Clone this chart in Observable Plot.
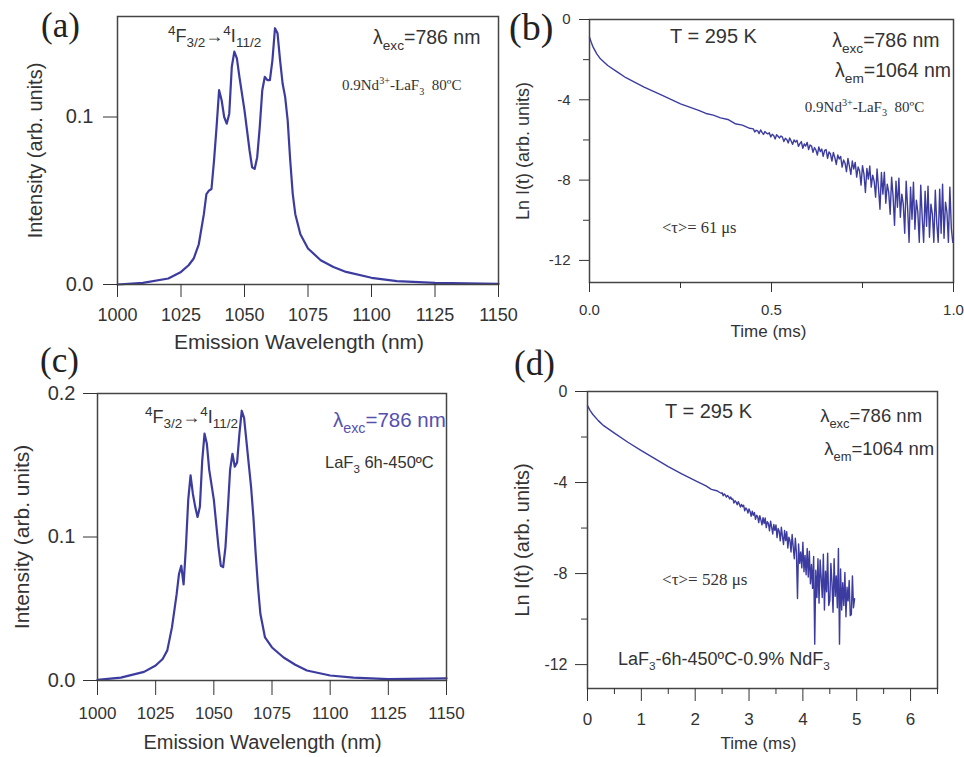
<!DOCTYPE html>
<html><head><meta charset="utf-8">
<script src="https://cdn.jsdelivr.net/npm/d3@7"></script>
<script src="https://cdn.jsdelivr.net/npm/@observablehq/plot@0.6"></script>
<style>
body{margin:0;background:#fff;}
#fig{position:relative;width:964px;height:757px;overflow:hidden;background:#fff;}
#fig svg{position:absolute;overflow:visible;}
</style></head><body><div id="fig"></div>
<script>
// ---------- DATA ----------
const wlTicks = [1000, 1025, 1050, 1075, 1100, 1125, 1150];
const aYTicks = [0, 0.1];
const cYTicks = [0, 0.1, 0.2];
const lnTicks = [0, -4, -8, -12];
const lnMinor = [-2, -6, -10];
const bTimeTicks = [0, 0.5, 1.0];
const bTimeMinor = [0.25, 0.75];
const dTimeTicks = [0, 1, 2, 3, 4, 5, 6];
const dTimeMinor = [0.5, 1.5, 2.5, 3.5, 4.5, 5.5, 6.5];

// (a) emission spectrum, 0.9Nd3+-LaF3 80ºC
const aWl = [1000,1010,1020,1025,1028,1030,1032,1034,1035,1036,1037,1038,1039,1040,1041,1042,1043,1044,1045,1046,1047,1048,1050,1052,1053,1054,1055,1056,1057,1058,1059,1060,1061,1062,1063,1064,1065,1066,1067,1068,1069,1070,1072,1075,1080,1085,1090,1100,1110,1125,1150];
const aInt = [0.0000,0.0010,0.0036,0.0075,0.0115,0.0155,0.024,0.042,0.054,0.056,0.057,0.074,0.094,0.116,0.110,0.100,0.096,0.102,0.130,0.139,0.135,0.124,0.104,0.080,0.070,0.069,0.076,0.094,0.116,0.124,0.122,0.122,0.134,0.153,0.150,0.134,0.120,0.112,0.098,0.074,0.054,0.042,0.030,0.0215,0.0145,0.0105,0.0075,0.004,0.002,0.001,0.0004];

// (c) emission spectrum, LaF3 6h-450ºC
const cWl = [1000,1010,1020,1025,1028,1030,1032,1034,1035,1036,1037,1038,1039,1040,1041,1042,1043,1044,1045,1046,1047,1048,1050,1052,1053,1054,1055,1056,1057,1058,1059,1060,1061,1062,1063,1064,1065,1066,1067,1068,1069,1070,1072,1075,1080,1085,1090,1100,1110,1125,1150];
const cInt = [0.0005,0.002,0.006,0.0105,0.015,0.021,0.037,0.060,0.074,0.080,0.067,0.093,0.126,0.143,0.130,0.121,0.114,0.121,0.153,0.172,0.165,0.147,0.126,0.093,0.080,0.079,0.093,0.119,0.147,0.158,0.149,0.152,0.172,0.188,0.183,0.167,0.151,0.135,0.114,0.088,0.065,0.0465,0.030,0.023,0.016,0.011,0.007,0.0035,0.002,0.001,0.0015];

// (b) decay, smooth early part
const bTime = [0,0.005,0.01,0.02,0.03,0.05,0.075,0.1,0.15,0.2,0.25,0.3,0.32,0.34,0.36,0.38,0.40,0.42,0.44];
const bLn = [-0.88,-1.15,-1.38,-1.71,-1.96,-2.29,-2.60,-2.90,-3.37,-3.78,-4.20,-4.53,-4.68,-4.76,-4.90,-4.98,-5.19,-5.26,-5.42];
// (b) decay, noisy tail sampled every 0.004 ms from 0.45 ms
const bTailStart = 0.45, bTailStep = 0.004;
const bLnTail = [
 -5.45,-5.60,-5.52,-5.55,-5.68,-5.50,-5.62,-5.72,-5.58,-5.66,
 -5.70,-5.64,-5.85,-5.72,-5.78,-5.95,-5.74,-5.82,-5.90,-5.80,
 -5.86,-6.08,-5.92,-5.98,-6.15,-5.90,-6.05,-6.22,-6.00,-6.10,
 -6.02,-6.32,-6.18,-6.08,-6.42,-6.20,-6.30,-6.12,-6.48,-6.25,
 -6.30,-6.62,-6.38,-6.50,-6.75,-6.35,-6.58,-6.45,-6.82,-6.52,
 -6.48,-6.92,-6.60,-6.70,-7.05,-6.62,-6.88,-7.22,-6.75,-6.95,
 -6.82,-7.35,-7.00,-7.15,-7.58,-6.92,-7.30,-7.72,-7.05,-7.45,
 -7.12,-7.85,-7.35,-7.55,-8.25,-7.28,-7.70,-8.62,-7.42,-7.95,
 -7.30,-8.35,-7.75,-8.05,-8.85,-7.45,-8.40,-9.45,-7.62,-8.70,
 -7.60,-9.15,-8.20,-8.60,-9.70,-7.85,-8.80,-10.25,-8.05,-9.35,
 -7.90,-9.85,-8.70,-9.20,-10.65,-8.05,-9.40,-11.10,-8.35,-9.95,
 -8.10,-10.45,-9.00,-9.60,-11.10,-8.25,-9.85,-11.10,-8.55,-10.30,
 -8.30,-10.85,-9.20,-9.70,-11.10,-8.50,-10.15,-11.10,-8.45,-10.65,
 -8.20,-10.90,-9.10,-9.60,-11.10,-8.35,-10.40,-11.10
];

// (d) decay, smooth early part
const dTime = [0,0.05,0.1,0.2,0.3,0.5,0.75,1.0,1.25,1.5,1.75,2.0,2.2,2.3,2.4,2.48];
const dLn = [-0.62,-0.84,-1.01,-1.28,-1.50,-1.83,-2.23,-2.60,-2.95,-3.30,-3.62,-3.92,-4.15,-4.30,-4.36,-4.47];
// (d) decay, noisy tail sampled every 0.02 ms from 2.5 ms
const dTailStart = 2.5, dTailStep = 0.02;
const dLnTail = [
 -4.45,-4.58,-4.50,-4.55,-4.64,-4.57,-4.62,-4.72,-4.64,-4.74,
 -4.72,-4.90,-4.80,-4.86,-4.98,-4.84,-4.94,-5.08,-4.96,-5.06,
 -5.00,-5.24,-5.12,-5.18,-5.34,-5.16,-5.28,-5.48,-5.26,-5.44,
 -5.32,-5.62,-5.44,-5.50,-5.76,-5.46,-5.64,-5.86,-5.54,-5.80,
 -5.56,-5.98,-5.72,-5.80,-6.12,-5.70,-5.96,-6.26,-5.84,-6.10,
 -5.86,-6.42,-6.02,-6.14,-6.56,-5.96,-6.36,-6.72,-6.10,-6.55,
 -6.16,-6.88,-6.40,-6.55,-7.05,-6.28,-6.82,-7.35,-6.45,-7.10,
 -9.10,-6.70,-7.55,-7.05,-7.75,-6.62,-7.92,-7.20,-8.05,-6.90,
 -8.15,-7.02,-8.45,-7.60,-8.65,-7.25,-11.10,-7.85,-9.05,-7.35,
 -9.30,-7.40,-8.20,-9.05,-7.15,-9.60,-7.90,-8.80,-7.10,-9.40,
 -9.20,-7.55,-8.40,-9.70,-7.35,-9.00,-8.10,-9.50,-6.90,-11.10,
 -7.80,-9.60,-8.40,-9.40,-7.95,-9.90,-8.60,-9.20,-8.30,-9.85,
 -9.80,-8.10,-9.50,-9.10
];

// ---------- TEXT ----------
const xLabelWl = "Emission Wavelength (nm)";
const yLabelInt = "Intensity (arb. units)";
const xLabelTime = "Time (ms)";
const yLabelLn = "Ln I(t) (arb. units)";
const transition = [["4","sup"],["F"],["3/2","sub"],["\u2192"],["4","sup"],["I"],["11/2","sub"]];
const lamExc = [["\u03bb"],["exc","sub"],["=786 nm"]];
const lamEm = [["\u03bb"],["em","sub"],["=1064 nm"]];
const tempT = [["T = 295 K"]];
const sampleNd = [["0.9Nd"],["3+","sup"],["-LaF"],["3","sub"],["\u00a0 80ºC"]];
const sampleC = [["LaF"],["3","sub"],[" 6h-450ºC"]];
const sampleD = [["LaF"],["3","sub"],["-6h-450ºC-0.9% NdF"],["3","sub"]];
const tauB = [["<\u03c4>= 61 \u03bcs"]];
const tauD = [["<\u03c4>= 528 \u03bcs"]];

// ---------- STYLE ----------
const sans = "Liberation Sans, Arial, Helvetica, sans-serif";
const serif = "Liberation Serif, Times New Roman, serif";
const lineBlue = "#3c3ca0";
const ink = "#333";

const fig = document.getElementById("fig");

function scaleFn(plot, name) {
  const s = plot.scale(name);
  if (s && typeof s.apply === "function") return v => s.apply(v);
  return d3.scaleLinear(s.domain, s.range);
}
function addRich(plot, xv, yv, parts, o) {
  const size = o.size, sub = o.sub || 0.7;
  const sx = scaleFn(plot, "x"), sy = scaleFn(plot, "y");
  const t = d3.select(plot).append("text")
    .attr("x", sx(xv)).attr("y", sy(yv))
    .attr("text-anchor", "start")
    .attr("font-family", o.family || sans).attr("font-size", size)
    .attr("fill", o.fill || ink);
  let cur = 0;
  for (const [s, k] of parts) {
    const off = k === "sub" ? size * 0.3 : k === "sup" ? -size * 0.4 : 0;
    const ts = t.append("tspan").text(s);
    if (off - cur !== 0) ts.attr("dy", off - cur);
    if (k) ts.attr("font-size", size * sub);
    cur = off;
  }
}
function place(plot, left, top) {
  plot.style.left = left + "px";
  plot.style.top = top + "px";
  fig.appendChild(plot);
}
const baseStyle = {background: "transparent", color: ink, fontFamily: sans, overflow: "visible"};
function yTitle(label, dx, size) {
  return Plot.text([label], {text: d => d, frameAnchor: "left", dx, rotate: -90, textAnchor: "middle", lineAnchor: "middle", fontSize: size, fill: ink});
}
function xTitle(label, dx, dy, size) {
  return Plot.text([label], {text: d => d, frameAnchor: "bottom", dx, dy, textAnchor: "middle", lineAnchor: "middle", fontSize: size, fill: ink});
}

// ---------- (a) ----------
const aData = aWl.map((w, i) => ({w, v: aInt[i]}));
const A = Plot.plot({
  width: 510, height: 355, marginLeft: 117, marginRight: 12, marginTop: 16, marginBottom: 71,
  style: baseStyle,
  x: {domain: [1000, 1150]}, y: {domain: [0, 0.16]},
  marks: [
    Plot.line(aData, {x: "w", y: "v", stroke: lineBlue, strokeWidth: 2.2}),
    Plot.frame({stroke: "#444", strokeWidth: 1.5}),
    Plot.axisX({ticks: wlTicks, tickSize: 13, tickPadding: 11, fontSize: 18, tickFormat: d => String(d), label: null}),
    Plot.axisY({ticks: aYTicks, tickSize: 14, tickPadding: 10, fontSize: 20, tickFormat: d3.format(".1f"), label: null}),
    yTitle(yLabelInt, -82, 20),
    xTitle(xLabelWl, -9, 58, 21)
  ]
});
place(A, 0, 0);
addRich(A, 1020.1, 0.1445, transition, {size: 18, sub: 0.75});
addRich(A, 1100.8, 0.1433, lamExc, {size: 19.5});
addRich(A, 1088.6, 0.1158, sampleNd, {size: 15, family: serif, sub: 0.68});

// ---------- (b) ----------
const bData = bTime.map((t, i) => ({t, v: bLn[i]}))
  .concat(bLnTail.map((v, i) => ({t: bTailStart + i * bTailStep, v})));
const B = Plot.plot({
  width: 484, height: 355, marginLeft: 109, marginRight: 11, marginTop: 19, marginBottom: 73,
  style: baseStyle,
  x: {domain: [0, 1]}, y: {domain: [-13.1, 0]},
  marks: [
    Plot.line(bData, {x: "t", y: "v", stroke: lineBlue, strokeWidth: 1.4}),
    Plot.frame({stroke: "#444", strokeWidth: 1.5}),
    Plot.axisX({ticks: bTimeTicks, tickSize: 10, tickPadding: 12, fontSize: 15, tickFormat: d3.format(".1f"), label: null}),
    Plot.axisX({ticks: bTimeMinor, tickSize: 6, tickFormat: () => "", label: null}),
    Plot.axisY({ticks: lnTicks, tickSize: 10, tickPadding: 9, fontSize: 15, tickFormat: d => String(d), label: null}),
    Plot.axisY({ticks: lnMinor, tickSize: 6, tickFormat: () => "", label: null}),
    yTitle(yLabelLn, -66, 18),
    xTitle(xLabelTime, -3, 49, 17)
  ]
});
place(B, 480, 0);
addRich(B, 0.2225, -1.196, tempT, {size: 20});
addRich(B, 0.668, -1.395, lamExc, {size: 19.5});
addRich(B, 0.676, -2.89, lamEm, {size: 19.5});
addRich(B, 0.593, -4.63, sampleNd, {size: 15, family: serif, sub: 0.68});
addRich(B, 0.2005, -10.66, tauB, {size: 16.5, family: serif});

// ---------- (c) ----------
const cData = cWl.map((w, i) => ({w, v: cInt[i]}));
const C = Plot.plot({
  width: 480, height: 427, marginLeft: 97, marginRight: 34, marginTop: 63, marginBottom: 77,
  style: baseStyle,
  x: {domain: [1000, 1150]}, y: {domain: [0, 0.2]},
  marks: [
    Plot.line(cData, {x: "w", y: "v", stroke: lineBlue, strokeWidth: 2.2}),
    Plot.frame({stroke: "#444", strokeWidth: 1.5}),
    Plot.axisX({ticks: wlTicks, tickSize: 15, tickPadding: 11, fontSize: 17, tickFormat: d => String(d), label: null}),
    Plot.axisY({ticks: cYTicks, tickSize: 14, tickPadding: 8, fontSize: 20, tickFormat: d3.format(".1f"), label: null}),
    yTitle(yLabelInt, -75, 21),
    xTitle(xLabelWl, -9.5, 62, 20)
  ]
});
place(C, 0, 330);
addRich(C, 1020.6, 0.1791, transition, {size: 18, sub: 0.75});
addRich(C, 1101.4, 0.1763, lamExc, {size: 20.5, fill: "#5450b0"});
addRich(C, 1098, 0.1477, sampleC, {size: 16.5});

// ---------- (d) ----------
const dData = dTime.map((t, i) => ({t, v: dLn[i]}))
  .concat(dLnTail.map((v, i) => ({t: dTailStart + i * dTailStep, v})));
const D = Plot.plot({
  width: 484, height: 427, marginLeft: 107, marginRight: 27, marginTop: 61, marginBottom: 69,
  style: baseStyle,
  x: {domain: [0, 6.5]}, y: {domain: [-13.05, 0]},
  marks: [
    Plot.line(dData, {x: "t", y: "v", stroke: lineBlue, strokeWidth: 1.4}),
    Plot.frame({stroke: "#444", strokeWidth: 1.5}),
    Plot.axisX({ticks: dTimeTicks, tickSize: 13, tickPadding: 11, fontSize: 17, tickFormat: d => String(d), label: null}),
    Plot.axisX({ticks: dTimeMinor, tickSize: 6, tickFormat: () => "", label: null}),
    Plot.axisY({ticks: lnTicks, tickSize: 12, tickPadding: 8, fontSize: 16, tickFormat: d => String(d), label: null}),
    Plot.axisY({ticks: lnMinor, tickSize: 6, tickFormat: () => "", label: null}),
    yTitle(yLabelLn, -65, 20),
    xTitle(xLabelTime, -4, 55, 17)
  ]
});
place(D, 480, 330);
addRich(D, 1.45, -1.19, tempT, {size: 20});
addRich(D, 4.33, -1.36, lamExc, {size: 18.5});
addRich(D, 4.405, -2.81, lamEm, {size: 18.5});
addRich(D, 1.394, -8.53, tauD, {size: 17, family: serif});
addRich(D, 0.576, -12.04, sampleD, {size: 18, sub: 0.65});

// ---------- panel letters ----------
const letters = [
  {s: "(a)", x: 41, y: 37, size: 35},
  {s: "(b)", x: 509, y: 40, size: 38},
  {s: "(c)", x: 40, y: 372, size: 35},
  {s: "(d)", x: 514, y: 375, size: 35}
];
const ov = d3.select(fig).append("svg").attr("width", 964).attr("height", 757)
  .style("left", "0px").style("top", "0px").style("pointer-events", "none");
ov.selectAll("text").data(letters).join("text")
  .attr("x", d => d.x).attr("y", d => d.y).attr("font-size", d => d.size)
  .attr("font-family", serif).attr("fill", "#222").text(d => d.s);
</script></body></html>
